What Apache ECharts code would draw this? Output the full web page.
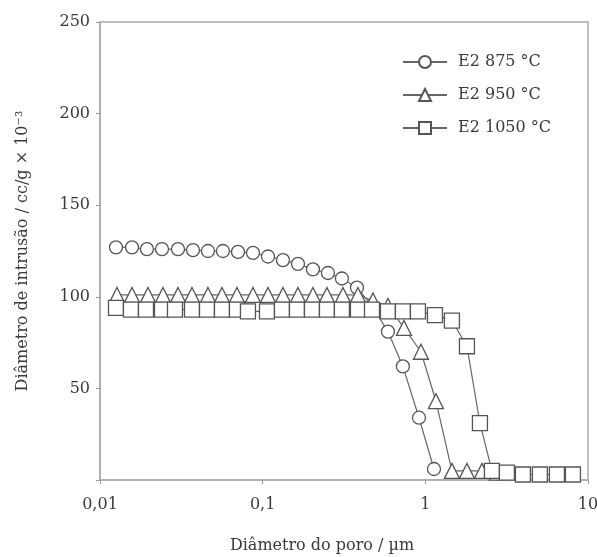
<!DOCTYPE html>
<html>
<head>
<meta charset="utf-8">
<script src="https://cdn.jsdelivr.net/npm/echarts@6/dist/echarts.min.js"></script>
<style>html,body{margin:0;padding:0;background:#fff;}#c{width:597px;height:557px;}</style>
</head>
<body>
<div id="c"></div>
<script>
var seriesNames = ['E2 875 \u00B0C', 'E2 950 \u00B0C', 'E2 1050 \u00B0C'];
var xTickLabels = ['0,01', '0,1', '1', '10'];

var x875 = [0.01254,0.01573,0.01944,0.02405,0.03016,0.0373,0.0461,0.0570,0.0705,0.0872,0.1078,0.1333,0.1648,0.2037,0.2519,0.307,0.380,0.470,0.589,0.728,0.914,1.130];
var y875 = [127,127,126,126,126,125.5,125,125,124.5,124,122,120,118,115,113,110,105,95,81,62,34,6];

var x950 = [0.01272,0.01573,0.01972,0.02439,0.03016,0.03677,0.0461,0.05622,0.0695,0.0872,0.1078,0.1333,0.1648,0.2037,0.2484,0.3115,0.3852,0.4764,0.589,0.7388,0.9397,1.162,1.457,1.802,2.228,2.754];
var y950 = [101,101,101,101,101,101,101,101,101,101,101,101,101,101,101,101,101,98,95,83,70,43,5,5,5,4];

var x1050 = [0.01254,0.01550,0.01917,0.02405,0.0289,0.03677,0.04547,0.05622,0.0695,0.0812,0.1063,0.1314,0.1625,0.2009,0.2484,0.307,0.3852,0.470,0.589,0.728,0.9006,1.146,1.457,1.802,2.166,2.567,3.173,3.98,5.06,6.44,8.08];
var y1050 = [94,93,93,93,93,93,93,93,93,92,92,93,93,93,93,93,93,93,92,92,92,90,87,73,31,5,4,3,3,3,3];

function pairs(xs, ys) { return xs.map(function (x, i) { return [x, ys[i]]; }); }

var font = '"DejaVu Serif", "Liberation Serif", serif';
var txt = '#3a3a3a';
var chart = echarts.init(document.getElementById('c'));
var markerStyle = { color: '#fff', borderColor: '#555', borderWidth: 1.3 };
var lineStyle = { color: '#666', width: 1.2 };

chart.setOption({
  animation: false,
  backgroundColor: '#fff',
  grid: { left: 100, right: 9, top: 22, bottom: 77, show: true, borderColor: '#aaa', borderWidth: 1.5,
          containLabel: false, outerBoundsMode: 'none' },
  legend: {
    left: 397, top: 49, orient: 'vertical', itemWidth: 44, itemHeight: 15, itemGap: 17,
    textStyle: { fontFamily: font, fontSize: 16, color: txt, padding: [0, 0, 0, 6] },
    data: seriesNames
  },
  xAxis: {
    type: 'log', logBase: 10, min: 0.01, max: 10,
    name: 'Di\u00E2metro do poro / \u00B5m', nameLocation: 'middle', nameGap: 58,
    nameTextStyle: { fontFamily: font, fontSize: 16, color: txt, padding: [0, 44, 0, 0] },
    axisLine: { lineStyle: { color: '#aaa', width: 1.5 } },
    axisTick: { show: true, length: 4, lineStyle: { color: '#999' } },
    minorTick: { show: false },
    splitLine: { show: false },
    axisLabel: {
      fontFamily: font, fontSize: 16, color: txt, margin: 17,
      formatter: function (v) {
        var map = { '0.01': xTickLabels[0], '0.1': xTickLabels[1], '1': xTickLabels[2], '10': xTickLabels[3] };
        var k = String(+v.toPrecision(3));
        return map[k] !== undefined ? map[k] : '';
      }
    }
  },
  yAxis: {
    type: 'value', min: 0, max: 250, interval: 50,
    name: 'Di\u00E2metro de intrus\u00E3o / cc/g \u00D7 10\u207B\u00B3', nameLocation: 'middle', nameGap: 69,
    nameTextStyle: { fontFamily: font, fontSize: 16, color: txt },
    axisLine: { show: true, lineStyle: { color: '#aaa', width: 1.5 } },
    axisTick: { show: true, length: 4, lineStyle: { color: '#999' } },
    splitLine: { show: false },
    axisLabel: {
      fontFamily: font, fontSize: 16, color: txt, margin: 10,
      formatter: function (v) { return v === 0 ? '' : String(v); }
    }
  },
  series: [
    { name: seriesNames[0], type: 'line', data: pairs(x875, y875), symbol: 'circle', symbolSize: 13,
      showAllSymbol: true, itemStyle: markerStyle, lineStyle: lineStyle, z: 2 },
    { name: seriesNames[1], type: 'line', data: pairs(x950, y950), symbol: 'triangle', symbolSize: 15,
      showAllSymbol: true, itemStyle: markerStyle, lineStyle: lineStyle, z: 3 },
    { name: seriesNames[2], type: 'line', data: pairs(x1050, y1050), symbol: 'rect', symbolSize: 15,
      showAllSymbol: true, itemStyle: markerStyle, lineStyle: lineStyle, z: 4 }
  ]
});
</script>
</body>
</html>
